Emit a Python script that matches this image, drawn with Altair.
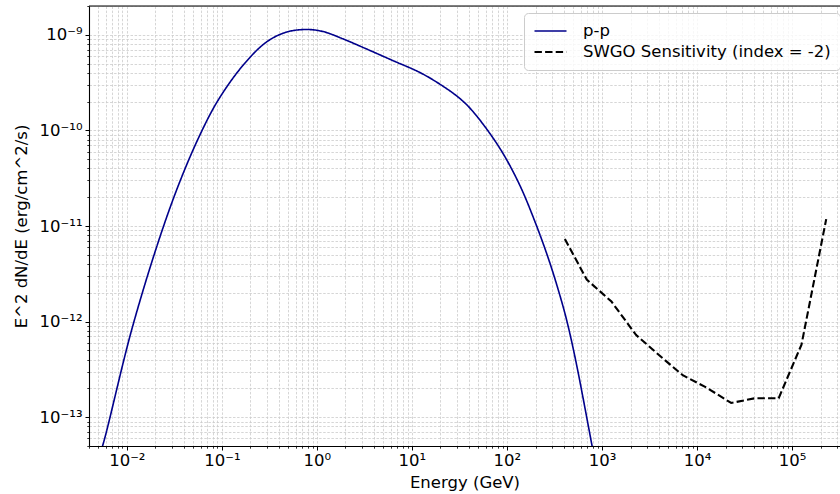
import altair as alt
import pandas as pd

# ---- data ----
energy_pp = [4.898e-3, 5.770e-3, 1.120e-2, 2.168e-2, 3.602e-2, 5.843e-2, 9.097e-2, 0.1665,
             0.2934, 0.4759, 0.7721, 1.153, 1.871, 3.296, 6.272, 11.96, 19.41, 31.48, 43.43,
             82.83, 134.4, 201.3, 277.6, 353.7, 426.2, 529.7, 785.8, 887.0]
flux_pp = [3.327e-14, 5.706e-14, 8.070e-13, 7.050e-12, 2.885e-11, 8.845e-11, 2.055e-10,
           4.774e-10, 8.367e-10, 1.065e-9, 1.136e-9, 1.083e-9, 9.082e-10, 7.140e-10,
           5.385e-10, 4.062e-10, 3.073e-10, 2.183e-10, 1.595e-10, 6.672e-11, 2.762e-11,
           1.054e-11, 4.356e-12, 2.015e-12, 1.027e-12, 3.917e-13, 5.058e-14, 2.639e-14]

energy_swgo = [407, 692, 1259, 2291, 3981, 7079, 12590, 22910, 40740, 72440, 125900, 229100]
flux_swgo = [7.33e-12, 2.75e-12, 1.62e-12, 7.24e-13, 4.47e-13, 2.75e-13, 2.04e-13, 1.41e-13,
             1.58e-13, 1.58e-13, 5.75e-13, 1.18e-11]

series_names = ["p-p", "SWGO Sensitivity (index = -2)"]
series_colors = ["#00008b", "#000000"]

x_domain = [4e-3, 3.2e5]
y_domain = [5e-14, 2e-9]
x_exps = list(range(-3, 6))
y_exps = list(range(-14, -8))

df_pp = pd.DataFrame({"E": energy_pp, "F": flux_pp, "series": series_names[0]})
df_sw = pd.DataFrame({"E": energy_swgo, "F": flux_swgo, "series": series_names[1]})

SUP = {"-": "\u207b", "0": "\u2070", "1": "\u00b9", "2": "\u00b2", "3": "\u00b3", "4": "\u2074",
       "5": "\u2075", "6": "\u2076", "7": "\u2077", "8": "\u2078", "9": "\u2079"}


def sup(n):
    return "".join(SUP[c] for c in str(n))


def tick_values(exps, lo, hi):
    vals = []
    for e in exps:
        for m in range(1, 10):
            v = m * 10.0 ** e
            if lo * 0.999 <= v <= hi * 1.001:
                vals.append(float(f"{v:.6g}"))
    return vals


def label_expr(exps):
    L = "(log(datum.value)/LN10)"
    R = f"round({L})"
    expr = "''"
    for e in reversed(exps):
        expr = f"({R} == {e} ? '10{sup(e)}' : {expr})"
    return f"abs({L} - {R}) < 0.001 ? {expr} : ''"


MAJOR = "abs(log(datum.value)/LN10 - round(log(datum.value)/LN10)) < 0.001"
FONT = "DejaVu Sans"
GRID = dict(grid=True, gridColor="#cccccc", gridDash=[2.5, 1.6], gridWidth=0.8)


def make_axis(title, exps, dom, pad, tpad):
    return alt.Axis(
        title=title,
        values=tick_values(exps, dom[0], dom[1]),
        labelExpr=label_expr(exps),
        tickSize={"condition": {"test": MAJOR, "value": 4}, "value": 2.2},
        tickWidth={"condition": {"test": MAJOR, "value": 1}, "value": 0.8},
        tickColor="black",
        domainColor="black",
        domainWidth=1.1,
        labelFont=FONT,
        labelFontSize=16.5,
        labelColor="black",
        labelPadding=pad,
        labelOverlap=False,
        labelFlush=False,
        titleFont=FONT,
        titleFontSize=16.5,
        titleFontWeight="normal",
        titleColor="black",
        titlePadding=tpad,
        **GRID,
    )


xenc = alt.X("E:Q", scale=alt.Scale(type="log", domain=x_domain, nice=False),
             axis=make_axis("Energy (GeV)", x_exps, x_domain, 2, 6))
yenc = alt.Y("F:Q", scale=alt.Scale(type="log", domain=y_domain, nice=False),
             axis=make_axis("E^2 dN/dE (erg/cm^2/s)", y_exps, y_domain, 3, 10))

legend = alt.Legend(
    title=None, orient="none", legendX=435, legendY=7,
    symbolType="stroke", symbolSize=1024, labelFont=FONT, labelFontSize=16.5,
    labelColor="black", labelOffset=15, labelLimit=0, padding=9, rowPadding=3,
    clipHeight=18,
    fillColor="rgba(255,255,255,0.8)", strokeColor="#cccccc", cornerRadius=4,
)
color = alt.Color("series:N", scale=alt.Scale(domain=series_names, range=series_colors), legend=legend)
dash = alt.StrokeDash("series:N", scale=alt.Scale(domain=series_names, range=[[1, 0], [7.4, 3.2]]), legend=legend)
width = alt.StrokeWidth("series:N", scale=alt.Scale(domain=series_names, range=[1.6, 2.1]), legend=legend)

pp = alt.Chart(df_pp).mark_line(interpolate="catmull-rom", clip=True).encode(
    x=xenc, y=yenc, color=color, strokeDash=dash, strokeWidth=width)
sw = alt.Chart(df_sw).mark_line(clip=True, strokeCap="butt").encode(
    x=xenc, y=yenc, color=color, strokeDash=dash, strokeWidth=width)

top_spine = alt.Chart(pd.DataFrame({"a": [0]})).mark_rule(color="black", strokeWidth=1.1).encode(
    x=alt.value(0), x2=alt.value(751), y=alt.value(0))

chart = alt.layer(pp, sw, top_spine).properties(
    width=751, height=440,
    padding={"left": 89, "top": 6, "right": 0, "bottom": 48},
    autosize=alt.AutoSizeParams(type="none"),
).configure_view(stroke=None).configure(background="white")

chart.save("out.html", embed_options={"renderer": "svg", "actions": False})
